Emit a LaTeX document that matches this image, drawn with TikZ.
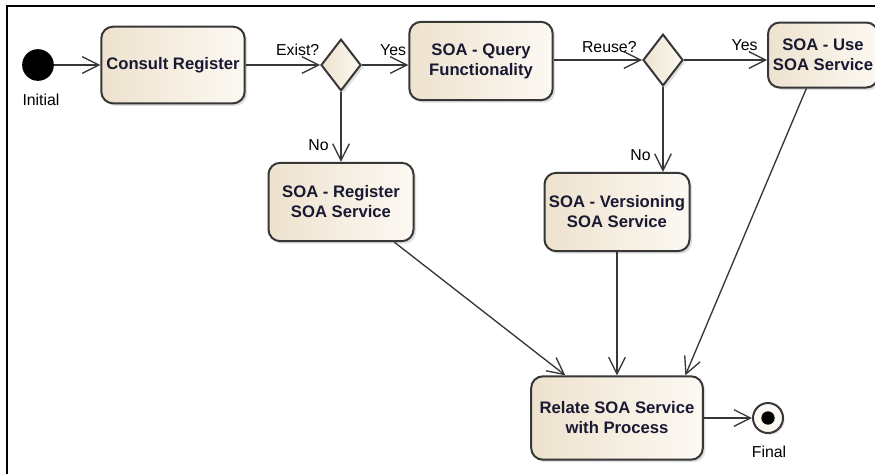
\documentclass[tikz,border=0pt]{standalone}
\usepackage{fontspec}
\setmainfont{Liberation Sans}
\usetikzlibrary{shapes.geometric,arrows.meta,shadows}
\definecolor{actfill}{RGB}{238,226,206}
\definecolor{actlight}{RGB}{252,249,243}
\definecolor{actdraw}{RGB}{55,55,55}
\definecolor{acttext}{RGB}{25,25,50}
\tikzset{
  action/.style={draw=actdraw,line width=1.2pt,rounded corners=7pt,left color=actfill,right color=actlight,
    drop shadow={opacity=0.25,shadow xshift=1.5pt,shadow yshift=-1.5pt},
    font=\bfseries,text=acttext,align=center,inner sep=2pt},
  decision/.style={diamond,draw=actdraw,line width=1.2pt,left color=actfill,right color=actlight,
    drop shadow={opacity=0.25,shadow xshift=1.5pt,shadow yshift=-1.5pt},
    minimum width=24pt,minimum height=31pt,inner sep=0pt},
  lbl/.style={font=\fontsize{9.5}{11}\selectfont,inner sep=1pt},
  flow/.style={->,line width=0.8pt,draw=actdraw}
}
\begin{document}
\begin{tikzpicture}[x=0.6pt,y=-0.6pt,>={Straight Barb[length=10pt,width=10pt]}]
    \useasboundingbox[fill=white] (0,0) rectangle (875,474);
    \draw[line width=1.5pt] (7,474) -- (7,6) -- (875,6);

    \node[circle,fill=black,minimum size=19pt,inner sep=0pt] (init) at (38,65){};
    \node[lbl] (initlbl) at (41,100){Initial};

    \node[action,minimum width=86pt,minimum height=46pt] (consult) at (173,65){Consult Register};
    \node[decision] (exist) at (341,65){};
    \node[action,minimum width=86pt,minimum height=47pt] (query) at (481,61){SOA - Query\\Functionality};
    \node[decision] (reuse) at (663,60){};
    \node[action,minimum width=66pt,minimum height=39pt] (use) at (823,55){SOA - Use\\SOA Service};
    \node[action,minimum width=87pt,minimum height=47pt] (register) at (341,202){SOA - Register\\SOA Service};
    \node[action,minimum width=87pt,minimum height=47pt] (versioning) at (617,212){SOA - Versioning\\SOA Service};
    \node[action,minimum width=103pt,minimum height=50pt] (relate) at (617,418){Relate SOA Service\\with Process};

    \node[circle,draw=actdraw,line width=1.2pt,fill=actlight,minimum size=18pt,inner sep=0pt,
      drop shadow={opacity=0.25,shadow xshift=1pt,shadow yshift=-1pt}] (final) at (768,418){};
    \node[circle,fill=black,minimum size=8pt,inner sep=0pt] (finaldot) at (final){};
    \node[lbl] (finallbl) at (769,452){Final};

    \draw (init) edge[flow] (consult);
    \draw (consult) edge[flow] node[lbl,pos=0.7,above=4pt]{Exist?} (exist);
    \draw (exist.east) edge[flow] node[lbl,pos=0.67,above=4pt]{Yes} (exist.east -| query.west);
    \draw (exist.south) edge[flow] node[lbl,pos=0.76,left=6pt]{No} (register.north);
    \draw (query.east |- reuse.west) edge[flow] node[lbl,pos=0.63,above=3pt]{Reuse?} (reuse.west);
    \draw (reuse.east) edge[flow] node[lbl,pos=0.73,above=4pt]{Yes} (reuse.east -| use.west);
    \draw (reuse.south) edge[flow] node[lbl,pos=0.8,left=6pt]{No} (reuse.south |- versioning.north);
    \draw ([xshift=32pt]register.south) edge[flow] ([xshift=-31pt]relate.north);
    \draw (versioning.south) edge[flow] (relate.north);
    \draw ([xshift=-10pt]use.south) edge[flow] ([xshift=41pt]relate.north);
    \draw (relate) edge[flow] (final);
\end{tikzpicture}
\end{document}
